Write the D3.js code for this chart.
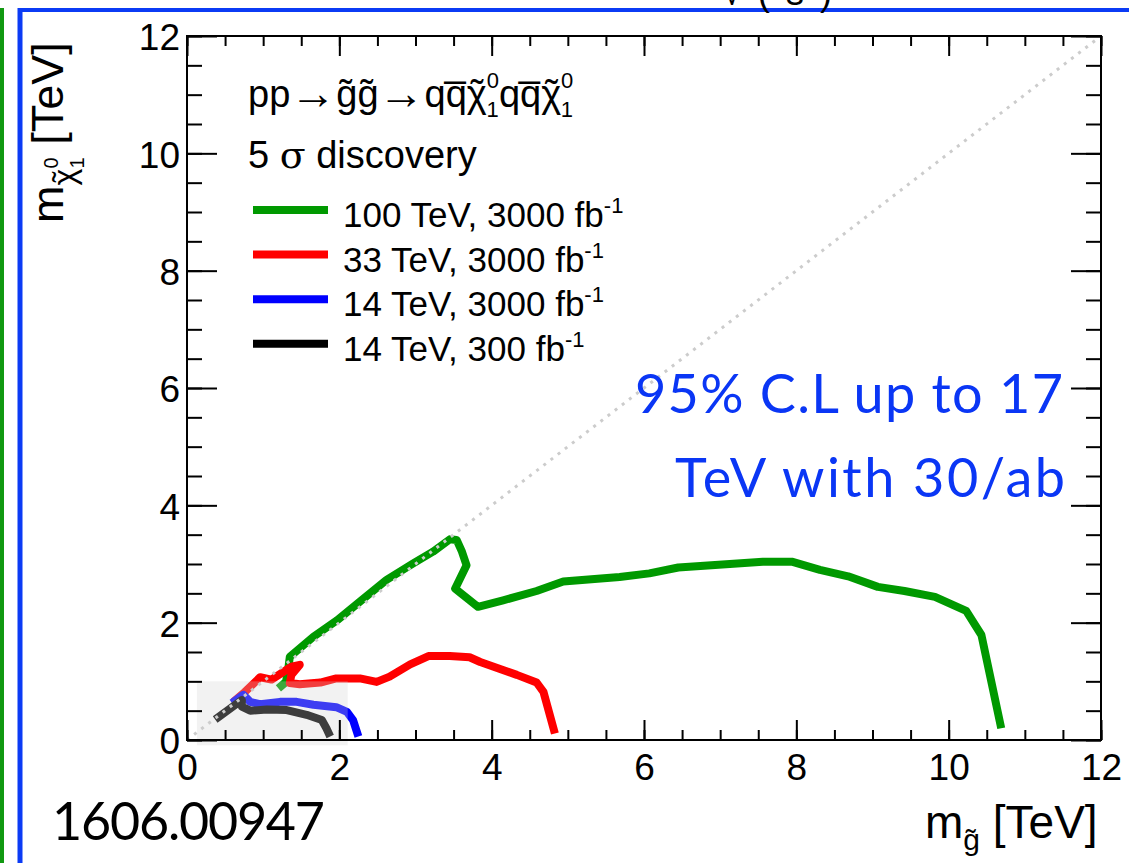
<!DOCTYPE html>
<html lang='en'>
<head>
<meta charset='UTF-8'>
<script src='https://d3js.org/d3.v7.min.js'></script>
<title>Gluino - neutralino reach</title>
<style>
  body { margin: 0; background: #fff; }
  text { font-family: 'Liberation Sans', Arial, sans-serif; }
</style>
</head>
<body>
<svg id='chart' width='1129' height='863'></svg>
<script>
// values (TeV)
const xTicks = [0, 2, 4, 6, 8, 10, 12]
const yTicks = [0, 2, 4, 6, 8, 10, 12]
const legendLabels = ['100 TeV, 3000 fb', '33 TeV, 3000 fb', '14 TeV, 3000 fb', '14 TeV, 300 fb']

// 100 TeV, 3000 fb-1
const gluino100 = [1.20, 1.30, 1.33, 1.35, 1.66, 1.97, 2.27, 2.62, 2.97, 3.23, 3.45, 3.54, 3.61, 3.67, 3.52, 3.82,
  4.15, 4.59, 4.94, 5.68, 6.07, 6.45, 7.56, 7.94, 8.31, 8.68, 9.07, 9.42, 9.82, 10.23, 10.43, 10.69]
const neutralino100 = [0.88, 0.99, 1.22, 1.42, 1.76, 2.04, 2.36, 2.73, 3.01, 3.21, 3.42, 3.41, 3.21, 2.98, 2.58, 2.27,
  2.38, 2.54, 2.70, 2.78, 2.84, 2.94, 3.04, 3.04, 2.90, 2.79, 2.61, 2.54, 2.44, 2.20, 1.79, 0.20]

// 33 TeV, 3000 fb-1
const gluino33 = [0.61, 0.76, 0.96, 1.11, 1.37, 1.48, 1.37, 1.35, 1.48, 1.75, 1.96, 2.27, 2.49, 2.66, 2.93, 3.17,
  3.45, 3.71, 3.85, 4.33, 4.59, 4.68, 4.83]
const neutralino33 = [0.65, 0.82, 1.07, 1.03, 1.25, 1.28, 1.11, 0.97, 0.95, 0.98, 1.05, 1.05, 0.99, 1.08, 1.29, 1.43,
  1.43, 1.41, 1.33, 1.11, 0.98, 0.82, 0.11]

// 14 TeV, 3000 fb-1
const gluino14hl = [0.59, 0.74, 0.83, 0.96, 1.22, 1.44, 1.66, 1.96, 2.10, 2.18, 2.25]
const neutralino14hl = [0.63, 0.77, 0.65, 0.61, 0.65, 0.65, 0.60, 0.56, 0.48, 0.34, 0.06]

// 14 TeV, 300 fb-1
const gluino14 = [0.37, 0.72, 0.72, 0.83, 1.05, 1.31, 1.57, 1.77, 1.83, 1.88]
const neutralino14 = [0.35, 0.68, 0.57, 0.50, 0.52, 0.51, 0.43, 0.34, 0.20, 0.06]

const diagonal = [0, 12]
const boxX = [0.13, 2.11]
const boxY = [-0.09, 1.0]

const colors = ['#009900', '#ff0000', '#0000ff', '#000000']
const series = [
  d3.zip(gluino100, neutralino100),
  d3.zip(gluino33, neutralino33),
  d3.zip(gluino14hl, neutralino14hl),
  d3.zip(gluino14, neutralino14)
]

const svg = d3.select('#chart')
const x = d3.scaleLinear().domain([0, 12]).range([187, 1101])
const y = d3.scaleLinear().domain([0, 12]).range([740, 36])

// slide frame lines
svg.append('line').attr('x1', 2).attr('x2', 2).attr('y1', 8).attr('y2', 863)
  .attr('stroke', '#119911').attr('stroke-width', 4)
svg.append('line').attr('x1', 20).attr('x2', 20).attr('y1', 8).attr('y2', 863)
  .attr('stroke', '#0b3bf5').attr('stroke-width', 5)
svg.append('line').attr('x1', 18).attr('x2', 1129).attr('y1', 10).attr('y2', 10)
  .attr('stroke', '#0b3bf5').attr('stroke-width', 4)
svg.append('text').attr('x', 722).attr('y', 5)
  .attr('textLength', 110).style('font-size', '36px').text('\u221a(s)')

// curves
const line = d3.line().x(d => x(d[0])).y(d => y(d[1]))
svg.selectAll('path.curve')
  .data(series)
  .enter()
  .append('path')
    .attr('class', 'curve')
    .attr('d', line)
    .attr('fill', 'none')
    .attr('stroke', (d, i) => colors[i])
    .attr('stroke-width', 8)
    .attr('stroke-linejoin', 'round')

// grey highlight box (drawn over the curves, semi transparent)
svg.append('rect')
  .attr('x', x(boxX[0])).attr('y', y(boxY[1]))
  .attr('width', x(boxX[1]) - x(boxX[0]))
  .attr('height', y(boxY[0]) - y(boxY[1]))
  .attr('fill', 'rgb(210,210,210)').attr('opacity', 0.29)

// m_chi = m_gluino diagonal
svg.append('line')
  .attr('x1', x(diagonal[0])).attr('y1', y(diagonal[0]))
  .attr('x2', x(diagonal[1])).attr('y2', y(diagonal[1]))
  .attr('stroke', '#cccccc').attr('stroke-width', 3)
  .attr('stroke-dasharray', '3,6')

// axes: major + minor ticks on all four sides
const minor = d3.range(0, 12.01, 0.5)
function ticks(axis, size, vals, tf, tr) {
  const g = svg.append('g').attr('transform', tr)
    .call(axis.tickValues(vals).tickSize(size).tickSizeOuter(0).tickFormat(tf))
  g.select('.domain').remove()
  g.selectAll('line').attr('stroke', '#000').attr('stroke-width', 2)
  return g
}
ticks(d3.axisBottom(x), -10, minor, '', 'translate(0,740)')
ticks(d3.axisTop(x), -10, minor, '', 'translate(0,36)')
ticks(d3.axisLeft(y), -15, minor, '', 'translate(187,0)')
ticks(d3.axisRight(y), -15, minor, '', 'translate(1101,0)')
ticks(d3.axisTop(x), -20, xTicks, '', 'translate(0,36)')
ticks(d3.axisRight(y), -30, yTicks, '', 'translate(1101,0)')
const xAxis = ticks(d3.axisBottom(x).tickPadding(14), -20, xTicks, d3.format('d'), 'translate(0,740)')
const yAxis = ticks(d3.axisLeft(y).tickPadding(7), -30, yTicks, d3.format('d'), 'translate(187,0)')
svg.selectAll('.tick text').style('font-size', '37px').attr('fill', '#000')
  .style('font-family', "'Liberation Sans', Arial, sans-serif")
yAxis.selectAll('.tick text').attr('dy', '0.37em')

svg.append('rect').attr('x', 187).attr('y', 36).attr('width', 1101 - 187).attr('height', 740 - 36)
  .attr('fill', 'none').attr('stroke', '#000').attr('stroke-width', 2)

// rich text: list of [text, fontSize, dx, dy]
function rich(t, parts) {
  parts.forEach(p => {
    t.append('tspan').text(p[0]).style('font-size', p[1] + 'px')
      .attr('dx', p[2] || null).attr('dy', p[3] || null)
  })
}
// chi~ with sub 1 and sup 0; back = dy that the next piece needs to return to the baseline
function chiParts(big, small, lift) {
  return [
    ['\u03c7', big, 0, lift],
    ['\u02dc', big, -big * 0.42, 0],
    ['1', small, 3, small * 0.45],
    ['0', small, -small * 0.55, -small * 1.3]
  ]
}

// process and legend
const proc = svg.append('text').attr('x', 248).attr('y', 107)
rich(proc, [
  ['pp', 38], ['\u2192', 46, 0, 2], ['g\u0303g\u0303', 38, 0, -2], ['\u2192', 46, 0, 2], ['qq\u0305', 38, 0, -2]
].concat(chiParts(38, 22, 0), [['qq\u0305', 38, 0, 22 * 0.85]], chiParts(38, 22, 0)))

const disc = svg.append('text').attr('x', 248).attr('y', 168).style('font-size', '38px')
disc.append('tspan').text('5 ')
disc.append('tspan').text('\u03c3').style('font-family', "'DejaVu Serif', serif")
disc.append('tspan').text(' discovery')

const leg = svg.selectAll('g.leg')
  .data(legendLabels)
  .enter()
  .append('g')
    .attr('class', 'leg')
    .attr('transform', (d, i) => `translate(253, ${210 + i * 44.6})`)
leg.append('line').attr('x1', 0).attr('x2', 75)
  .attr('stroke', (d, i) => colors[i]).attr('stroke-width', 8)
const legText = leg.append('text').attr('x', 90).attr('y', 17).style('font-size', '35px')
legText.append('tspan').text(d => d)
legText.append('tspan').text('-1').style('font-size', '22px').attr('dy', -14)

// axis titles
const yt = svg.append('text').attr('transform', 'translate(63,223) rotate(-90)')
rich(yt, [['m', 45]].concat(chiParts(32, 20, 12), [[' [TeV]', 45, 0, -12 + 20 * 0.85]]))

const xt = svg.append('text').attr('x', 925).attr('y', 838)
rich(xt, [['m', 46], ['g\u0303', 30, 0, 12], [' [TeV]', 46, 0, -12]])

// slide annotations
svg.append('text').attr('x', 635).attr('y', 413).attr('textLength', 428)
  .style('font-family', 'Lato, sans-serif').style('font-size', '54px').attr('fill', '#0a36f5')
  .text('95% C.L up to 17')
svg.append('text').attr('x', 675).attr('y', 497).attr('textLength', 390)
  .style('font-family', 'Lato, sans-serif').style('font-size', '54px').attr('fill', '#0a36f5')
  .text('TeV with 30/ab')
svg.append('text').attr('x', 52).attr('y', 840).attr('textLength', 273)
  .style('font-family', 'Lato, sans-serif').style('font-size', '52px').attr('fill', '#000')
  .text('1606.00947')
</script>
</body>
</html>
